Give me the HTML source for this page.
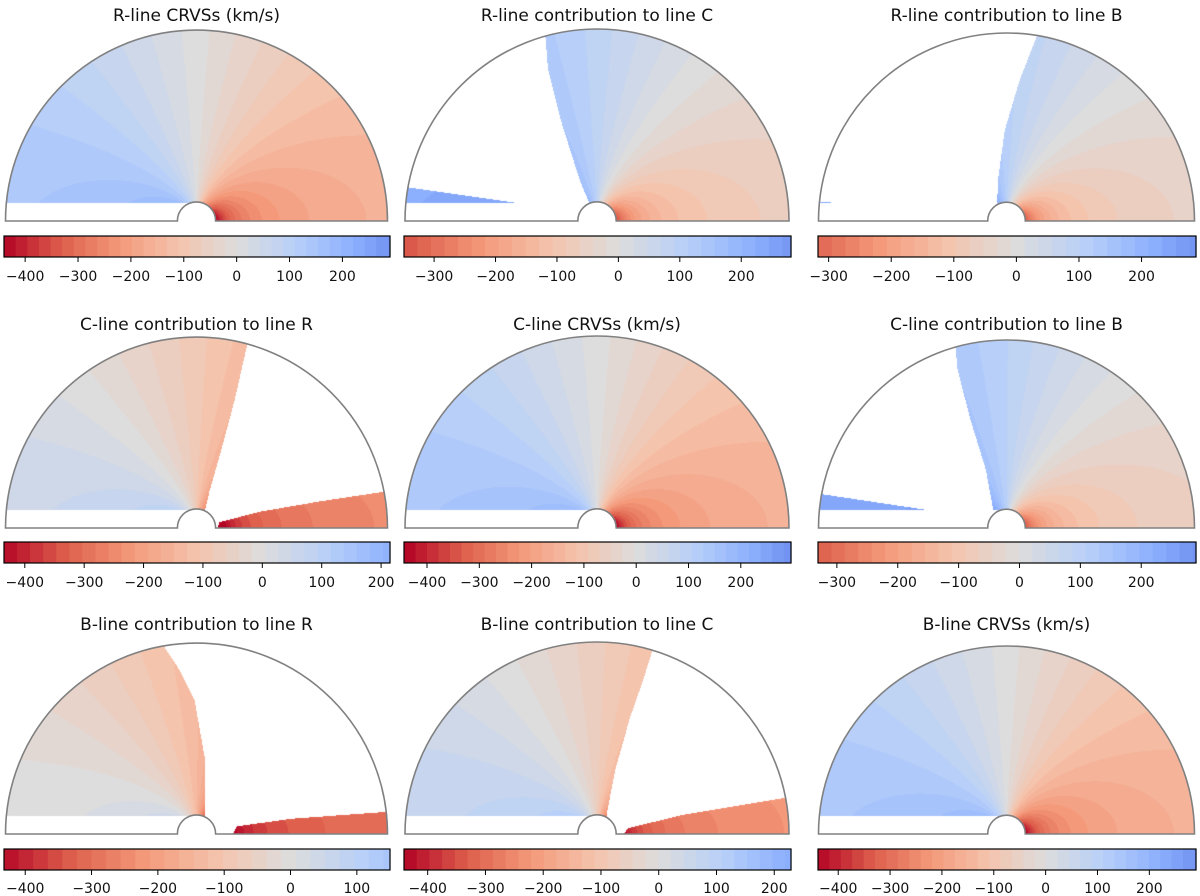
<!DOCTYPE html>
<html><head><meta charset="utf-8">
<style>
html,body{margin:0;padding:0;background:#fff;}
#wrap{position:relative;width:1200px;height:896px;overflow:hidden;font-family:"DejaVu Sans","Liberation Sans",sans-serif;}
canvas,svg{position:absolute;left:0;top:0;}
</style></head>
<body>
<div id="wrap">
<canvas id="cv" width="1200" height="896"></canvas>
<svg id="sv" width="1200" height="896"></svg>
</div>
<script>
// ---- data ----
const titles=["R-line CRVSs (km/s)","R-line contribution to line C","R-line contribution to line B",
"C-line contribution to line R","C-line CRVSs (km/s)","C-line contribution to line B",
"B-line contribution to line R","B-line contribution to line C","B-line CRVSs (km/s)"];
// amplitude of the dipole-like velocity pattern: [left side, right side]
const edgeAmp=[140,160];
const innerAmp=[280,450];
const shifts=[0,90,110,-90,0,100,-140,-70,0];
const cbMin=[-440,-349,-317,-435,-444,-331,-432,-441,-439];
const cbMax=[290,281,287,215,296,290,150,229,290];
const normMax=440;
const bandStep=22;
// keep-region polygons in normalized disk units (u right, w up); null = full disk
const masks=[null,
[[[-0.036,0],[-0.036,0.083],[-0.089,0.21],[-0.19,0.53],[-0.255,0.79],[-0.28,1.1],[1.1,1.1],[1.1,0]],
 [[-1.05,0.094],[-1.05,0.185],[-0.417,0.094]]],
[[[-0.05,0],[-0.05,0.085],[-0.045,0.22],[-0.01,0.48],[0.07,0.75],[0.16,0.98],[0.3,1.1],[1.1,1.1],[1.1,0]],
 [[-1.05,0.094],[-1.05,0.106],[-0.87,0.094]]],
[[[-1.1,0],[-1.1,1.1],[0.28,1.1],[0.27,0.98],[0.2,0.67],[0.13,0.41],[0.07,0.2],[0.045,0.094],[0.045,0]],
 [[0.11,0],[0.12,0.03],[0.33,0.085],[0.65,0.14],[1.05,0.2],[1.05,0]]],
null,
[[[-0.07,0],[-0.07,0.094],[-0.11,0.31],[-0.19,0.57],[-0.26,0.84],[-0.285,1.1],[1.1,1.1],[1.1,0]],
 [[-1.05,0.094],[-1.05,0.19],[-0.41,0.094]]],
[[[-1.1,0],[-1.1,1.1],[-0.18,1.1],[-0.175,0.99],[-0.09,0.86],[-0.01,0.7],[0.045,0.39],[0.045,0]],
 [[0.19,0],[0.21,0.04],[0.5,0.08],[1.05,0.12],[1.05,0]]],
[[[-1.1,0],[-1.1,1.1],[0.3,1.1],[0.29,0.96],[0.24,0.8],[0.17,0.6],[0.094,0.33],[0.05,0.1],[0.05,0]],
 [[0.14,0],[0.16,0.03],[0.45,0.1],[1.05,0.2],[1.05,0]]],
null];
// ---- layout ----
const colCx=[196.5,597,1006.5], colR=[191,192,188], rowCy=[221,528,834];
const cbX=[[4,390],[404,791],[818,1196]], cbY=[236,542,849], cbH=21;
const titleY=[21,330,630], tickLabY=[281,587,893];
const stops=[[59,76,192],[98,130,234],[141,176,254],[184,208,249],[221,221,221],[245,196,173],[244,154,123],[222,96,77],[180,4,38]];
function cmap(s){s=Math.max(0,Math.min(1,s));const f=s*8,i=Math.min(7,Math.floor(f)),t=f-i;const a=stops[i],b=stops[i+1];
 return [a[0]+(b[0]-a[0])*t,a[1]+(b[1]-a[1])*t,a[2]+(b[2]-a[2])*t];}
function velColor(v){v=Math.round(v/bandStep)*bandStep;return cmap(0.5-0.5*v/normMax);}
function inPoly(p,x,y){let c=false;for(let i=0,j=p.length-1;i<p.length;j=i++){const xi=p[i][0],yi=p[i][1],xj=p[j][0],yj=p[j][1];
 if(((yi>y)!=(yj>y))&&(x<(xj-xi)*(y-yi)/(yj-yi)+xi))c=!c;}return c;}
const hole=0.1, strip=0.094, pw=0.85;
const gden=Math.pow(1/hole,pw)-1;
const cv=document.getElementById('cv'),ctx=cv.getContext('2d');
const img=ctx.createImageData(1200,896);const D=img.data;
for(let k=0;k<9;k++){
 const row=Math.floor(k/3),col=k%3,cx=colCx[col],R=colR[col],cy=rowCy[row];
 for(let y=Math.floor(cy-R-1);y<cy;y++){for(let x=Math.floor(cx-R-1);x<=Math.ceil(cx+R+1);x++){
  const u=(x+0.5-cx)/R,w=(cy-(y+0.5))/R,r=Math.hypot(u,w);
  if(r>1||r<hole)continue; if(u<0&&w<strip)continue;
  if(masks[k]){let ok=false;for(const p of masks[k]){if(inPoly(p,u,w)){ok=true;break;}}if(!ok)continue;}
  const cl=-u/r; // cosine of angle from left
  const g=(Math.pow(1/r,pw)-1)/gden;
  const side=cl>=0?0:1;
  const A=edgeAmp[side]+(innerAmp[side]-edgeAmp[side])*g;
  const v=A*cl+shifts[k];
  const c=velColor(v);const o=(y*1200+x)*4;D[o]=c[0];D[o+1]=c[1];D[o+2]=c[2];D[o+3]=255;}}
}
for(let i=0;i<D.length;i+=4){if(D[i+3]===0){D[i]=D[i+1]=D[i+2]=D[i+3]=255;}}
ctx.putImageData(img,0,0);
// ---- overlay ----
const NS='http://www.w3.org/2000/svg',sv=document.getElementById('sv');
function mk(t,a,parent){const e=document.createElementNS(NS,t);for(const q in a)e.setAttribute(q,a[q]);(parent||sv).appendChild(e);return e;}
for(let k=0;k<9;k++){
 const row=Math.floor(k/3),col=k%3,cx=colCx[col],R=colR[col],cy=rowCy[row];
 const g=mk('g',{});
 
 
 const t=mk('text',{x:cx,y:titleY[row],'text-anchor':'middle','font-size':'17',fill:'#111'},g);t.textContent=titles[k];
 
 
 const hr=R*hole;
 const outline=mk('path',{d:`M${cx-R},${cy} A${R},${R} 0 0 1 ${cx+R},${cy} L${cx+hr},${cy} A${hr},${hr} 0 0 0 ${cx-hr},${cy} Z`,fill:'none',stroke:'#808080','stroke-width':'1.6'},g);
 
 
 const x0=cbX[col][0],x1=cbX[col][1],y0=cbY[row];
 const sc=v=>x0+(v-cbMin[k])/(cbMax[k]-cbMin[k])*(x1-x0);
 const cb=mk('g',{},g);
 
 
 const nb=Math.ceil((cbMax[k]-cbMin[k])/bandStep);
 for(let b=0;b<nb;b++){const va=cbMin[k]+b*bandStep,vb=Math.min(cbMax[k],va+bandStep);
  const c=cmap(0.5-0.5*((va+vb)/2)/normMax);
  const r=mk('rect',{x:sc(va),y:y0,width:sc(vb)-sc(va)+0.6,height:cbH,fill:`rgb(${c[0]|0},${c[1]|0},${c[2]|0})`},cb);
  
  }
 mk('rect',{x:x0,y:y0,width:x1-x0,height:cbH,fill:'none',stroke:'#000','stroke-width':'1.2'},cb);
 for(let v=Math.ceil(cbMin[k]/100)*100;v<=cbMax[k];v+=100){
  const tx=sc(v);
  const tk=mk('line',{x1:tx,x2:tx,y1:y0+cbH,y2:y0+cbH+5,stroke:'#000','stroke-width':'1'},cb);
  
  
  const lb=mk('text',{x:tx,y:tickLabY[row],'text-anchor':'middle','font-size':'14',fill:'#111'},cb);
  lb.textContent=(v<0?'\u2212':'')+Math.abs(v);
  
  }
}
</script>
</body></html>
